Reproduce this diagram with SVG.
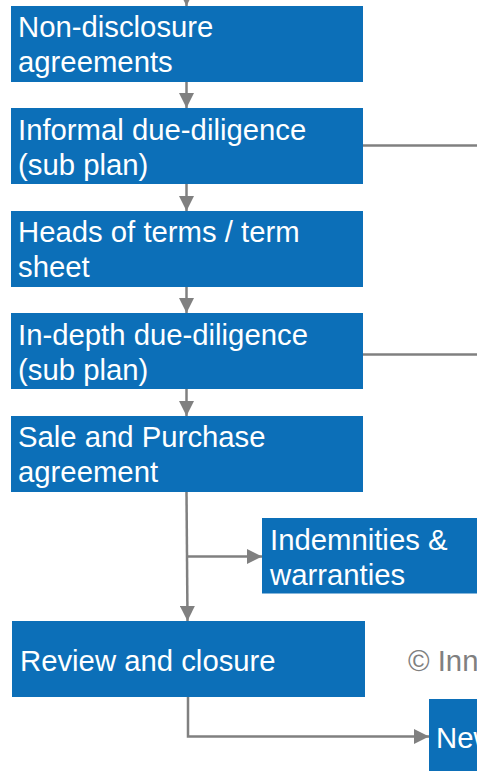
<svg xmlns="http://www.w3.org/2000/svg" width="477" height="771" viewBox="0 0 477 771">
<style>
.box{fill:#0C6FB8}
.t{font-family:"Liberation Sans",Arial,sans-serif;font-size:29.3px;fill:#fff}
.c{font-family:"Liberation Sans",Arial,sans-serif;font-size:29.3px;fill:#808080}
.ln{stroke:#808080;stroke-width:2.5;fill:none}
</style>
<defs>
<marker id="ah" viewBox="0 0 10 10" refX="10" refY="5" markerWidth="6" markerHeight="6" markerUnits="strokeWidth" orient="auto">
<path d="M0,0 L10,5 L0,10 z" fill="#808080"/>
</marker>
</defs>
<rect width="477" height="771" fill="#fff"/>
<g id="connectors">
<path class="ln" d="M186.5,-10 V6" marker-end="url(#ah)"/>
<path class="ln" d="M186.5,82 V108" marker-end="url(#ah)"/>
<path class="ln" d="M186.5,184 V211" marker-end="url(#ah)"/>
<path class="ln" d="M186.5,287 V313" marker-end="url(#ah)"/>
<path class="ln" d="M186.5,389 V416" marker-end="url(#ah)"/>
<path class="ln" d="M363,145.5 H477"/>
<path class="ln" d="M363,354.5 H477"/>
<path class="ln" d="M186.5,492 L187.5,621" marker-end="url(#ah)"/>
<path class="ln" d="M186.8,556.5 H262" marker-end="url(#ah)"/>
<path class="ln" d="M188,697 V736.5 H429" marker-end="url(#ah)"/>
</g>
<g id="n1"><rect class="box" x="11" y="6" width="352" height="76"/><text class="t" x="18" y="36.5">Non-disclosure</text><text class="t" x="18" y="72">agreements</text></g>
<g id="n2"><rect class="box" x="11" y="108" width="352" height="76"/><text class="t" x="18" y="139.5">Informal due-diligence</text><text class="t" x="18" y="174.5">(sub plan)</text></g>
<g id="n3"><rect class="box" x="11" y="211" width="352" height="76"/><text class="t" x="18" y="242">Heads of terms / term</text><text class="t" x="18" y="277">sheet</text></g>
<g id="n4"><rect class="box" x="11" y="313" width="352" height="76"/><text class="t" x="18" y="345">In-depth due-diligence</text><text class="t" x="18" y="380">(sub plan)</text></g>
<g id="n5"><rect class="box" x="11" y="416" width="352" height="76"/><text class="t" x="18" y="446.5">Sale and Purchase</text><text class="t" x="18" y="482">agreement</text></g>
<g id="n6"><rect class="box" x="262" y="518" width="215" height="75.5"/><text class="t" x="270" y="549.5">Indemnities &amp;</text><text class="t" x="270" y="584.5">warranties</text></g>
<g id="n7"><rect class="box" x="12" y="621" width="353" height="76"/><text class="t" x="20" y="670.5">Review and closure</text></g>
<g id="n8"><rect class="box" x="429" y="699" width="48" height="72"/><text class="t" x="436" y="748">New</text></g>
<text class="c" x="408" y="670.5">© Inn</text>
</svg>
